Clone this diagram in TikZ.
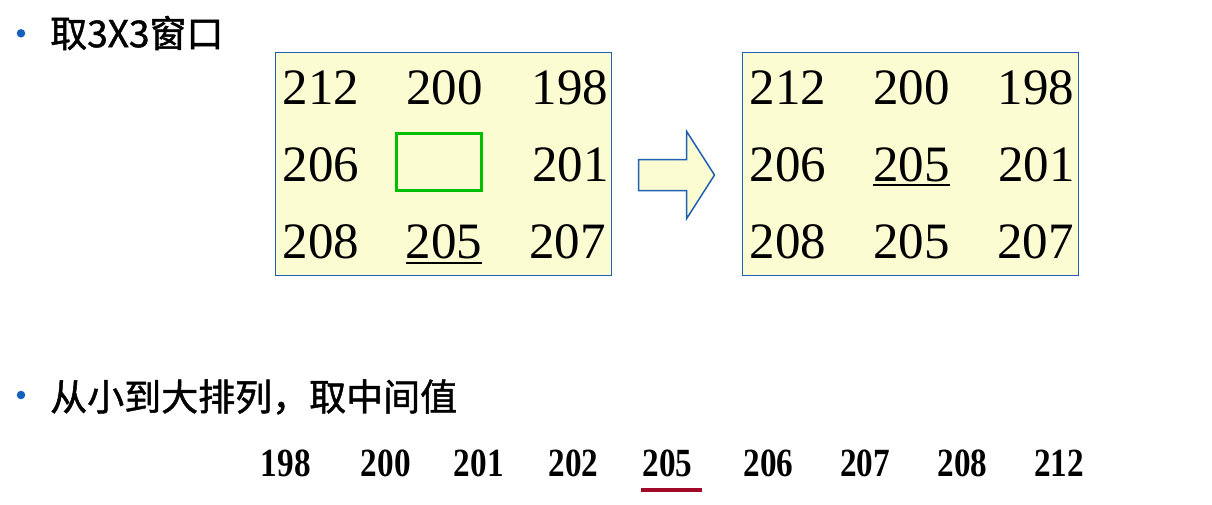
\documentclass[tikz,border=0pt]{standalone}
\usepackage{fontspec}
\setmainfont{Liberation Serif}
\newfontfamily\cjk[FakeBold=1.3]{Noto Sans CJK SC}
\usepackage{graphicx}
\definecolor{boxfill}{HTML}{FCFCD2}
\definecolor{boxline}{HTML}{1F5FB4}
\definecolor{bulletblue}{HTML}{1560BD}
\definecolor{wingreen}{HTML}{00BF00}
\definecolor{medred}{HTML}{A00A28}
\begin{document}
\begin{tikzpicture}[x=1pt,y=-1pt,
  num/.style={font=\fontsize{51}{51}\selectfont, inner sep=0pt, anchor=base},
  seq/.style={font=\fontsize{40}{40}\selectfont\bfseries, inner sep=0pt, anchor=base},
  head/.style={font=\cjk\fontsize{37}{37}\selectfont, inner sep=0pt, anchor=west},
  dot/.style={circle, fill=bulletblue, inner sep=0pt, minimum size=8.5pt},
  win/.style={draw=boxline, fill=boxfill, line width=1.3pt, anchor=north west,
              minimum width=336pt, minimum height=223pt, inner sep=0pt},
  mark205/.style={line width=2.5pt, black}
]
\useasboundingbox (0,0) rectangle (1212,504);
\fill[white] (0,0) rectangle (1212,504);

% headings
\node[dot] (d1) at (21,33.3) {};
\node[head] (h1) at (50,33) {取3X3窗口};
\node[dot] (d2) at (21,395) {};
\node[head] (h2) at (50,397) {从小到大排列，取中间值};

% box 1
\node[win] (box1) at (275,52) {};
\node[num] (a11) at (321,104) {212};
\node[num] (a12) at (444.5,104) {200};
\node[num] (a13) at (570,104) {198};
\node[num] (a21) at (321,181.5) {206};
\node[draw=wingreen, line width=3pt, minimum width=85pt, minimum height=57pt, inner sep=0pt] (hole) at (438.5,161.5) {};
\node[num] (a23) at (570.5,181.5) {201};
\node[num] (a31) at (321,258) {208};
\node[num] (a32) at (444,258) {205};
\node[num] (a33) at (567.5,258) {207};
\draw[mark205] ([yshift=-5pt]a32.base west) -- ([yshift=-5pt]a32.base east);

% arrow
\draw[boxline, fill=boxfill, line width=1.5pt, line join=miter]
  (638.5,159.5) -- (686.7,159.5) -- (686.7,131.5) -- (714.5,175) --
  (686.7,218.5) -- (686.7,190.5) -- (638.5,190.5) -- cycle;

% box 2
\node[win] (box2) at (742,52) {};
\node[num] (b11) at (788,104) {212};
\node[num] (b12) at (911.5,104) {200};
\node[num] (b13) at (1036,104) {198};
\node[num] (b21) at (788,181.5) {206};
\node[num] (b22) at (911.5,181.5) {205};
\node[num] (b23) at (1036.5,181.5) {201};
\node[num] (b31) at (788,258) {208};
\node[num] (b32) at (911.5,258) {205};
\node[num] (b33) at (1035.5,258) {207};
\draw[mark205] ([yshift=-3.5pt]b22.base west) -- ([yshift=-3.5pt]b22.base east);

% sorted sequence
\node[seq] (s1) at (285.7,476) {\scalebox{0.83}[1]{198}};
\node[seq] (s2) at (385.8,476) {\scalebox{0.83}[1]{200}};
\node[seq] (s3) at (478.7,476) {\scalebox{0.83}[1]{201}};
\node[seq] (s4) at (573.3,476) {\scalebox{0.83}[1]{202}};
\node[seq] (s5) at (667.5,476) {\scalebox{0.83}[1]{205}};
\node[seq] (s6) at (768.3,476) {\scalebox{0.83}[1]{206}};
\node[seq] (s7) at (865,476) {\scalebox{0.83}[1]{207}};
\node[seq] (s8) at (962.5,476) {\scalebox{0.83}[1]{208}};
\node[seq] (s9) at (1059,476) {\scalebox{0.83}[1]{212}};
\draw[medred, line width=3.7pt] ([xshift=-1pt,yshift=-14pt]s5.base west) -- ([xshift=9pt,yshift=-14pt]s5.base east);
\end{tikzpicture}
\end{document}
